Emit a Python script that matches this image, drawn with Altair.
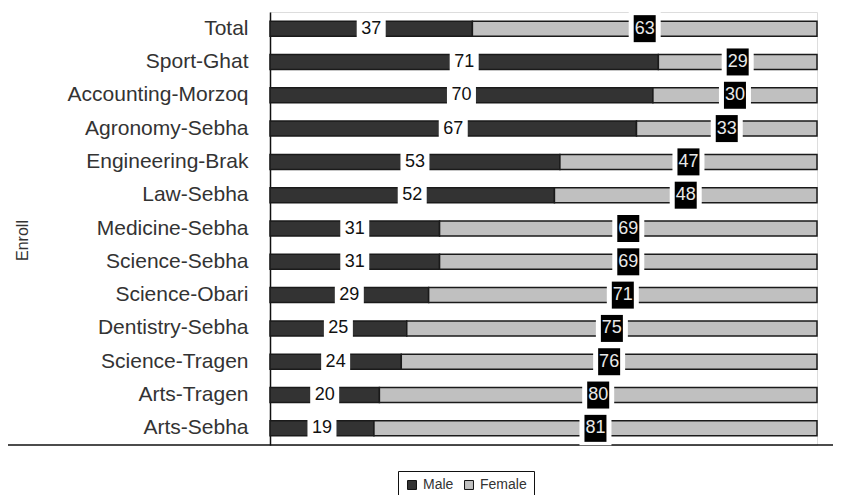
import altair as alt
import pandas as pd

categories = ["Total", "Sport-Ghat", "Accounting-Morzoq", "Agronomy-Sebha", "Engineering-Brak",
              "Law-Sebha", "Medicine-Sebha", "Science-Sebha", "Science-Obari", "Dentistry-Sebha",
              "Science-Tragen", "Arts-Tragen", "Arts-Sebha"]
male = [37, 71, 70, 67, 53, 52, 31, 31, 29, 25, 24, 20, 19]
female = [63, 29, 30, 33, 47, 48, 69, 69, 71, 75, 76, 80, 81]

rows = []
for c, m, f in zip(categories, male, female):
    rows.append({"cat": c, "sex": "Male", "value": m, "start": 0, "end": m, "mid": m / 2})
    rows.append({"cat": c, "sex": "Female", "value": f, "start": m, "end": m + f, "mid": m + f / 2})
df = pd.DataFrame(rows)

FONT = "Liberation Sans"

yenc = alt.Y("cat:N", sort=categories, title="Enroll",
             scale=alt.Scale(paddingInner=0, paddingOuter=0),
             axis=alt.Axis(ticks=False, labelPadding=22, labelFontSize=21, labelFont=FONT,
                           labelLimit=0,
                           labelColor="#333333", domainColor="#111111", domainWidth=1.5,
                           titleFont=FONT, titleFontSize=16, titleFontWeight="normal",
                           titleColor="#333333", titleX=-248, titleY=228,
                           titleAlign="center", titleBaseline="middle", titleAngle=-90))
xscale = alt.Scale(domain=[0, 100], nice=False, zero=True)

base = alt.Chart(df)

bars = base.mark_bar(size=15, stroke="#1a1a1a", strokeWidth=1.5).encode(
    x=alt.X("start:Q", scale=xscale, axis=None),
    x2="end:Q",
    y=yenc,
    color=alt.Color("sex:N", scale=alt.Scale(domain=["Male", "Female"], range=["#333333", "#c0c0c0"]),
                    legend=alt.Legend(orient="none", legendX=128, legendY=459, direction="horizontal",
                                      title=None, strokeColor="#111111", padding=7,
                                      symbolType="square", symbolSize=80, symbolStrokeColor="#111111",
                                      symbolStrokeWidth=1, labelFont=FONT, labelFontSize=14,
                                      labelColor="#333333", columnPadding=8)),
)

rule = alt.Chart(pd.DataFrame({"a": [0]})).mark_rule(color="#111111", strokeWidth=1.5).encode(
    x=alt.value(-262), x2=alt.value(563), y=alt.value(433)
)

mdf = df[df.sex == "Male"]
fdf = df[df.sex == "Female"]

male_box = alt.Chart(mdf).mark_bar(size=30, color="white", xOffset=-14.5, x2Offset=14.5).encode(
    x=alt.X("mid:Q", scale=xscale, axis=None), x2="mid:Q", y=yenc)
male_text = alt.Chart(mdf).mark_text(font=FONT, fontSize=18, color="#111111", baseline="middle",
                                     align="center").encode(
    x=alt.X("mid:Q", scale=xscale, axis=None), y=yenc, text="value:Q")

fem_white = alt.Chart(fdf).mark_bar(size=34, color="white", xOffset=-16, x2Offset=16).encode(
    x=alt.X("mid:Q", scale=xscale, axis=None), x2="mid:Q", y=yenc)
fem_black = alt.Chart(fdf).mark_bar(size=27, color="black", xOffset=-11, x2Offset=11).encode(
    x=alt.X("mid:Q", scale=xscale, axis=None), x2="mid:Q", y=yenc)
fem_text = alt.Chart(fdf).mark_text(font=FONT, fontSize=18, color="#e8e8e8", baseline="middle",
                                    align="center").encode(
    x=alt.X("mid:Q", scale=xscale, axis=None), y=yenc, text="value:Q")

chart = alt.layer(bars, rule, male_box, male_text, fem_white, fem_black, fem_text).properties(
    width=547, height=433,
    autosize=alt.AutoSizeParams(type="none"),
    padding={"left": 262, "top": 4, "right": 16, "bottom": 50},
).configure_view(stroke=None).configure(background="white")

chart.save("out.html", embed_options={"renderer": "svg", "actions": False})
